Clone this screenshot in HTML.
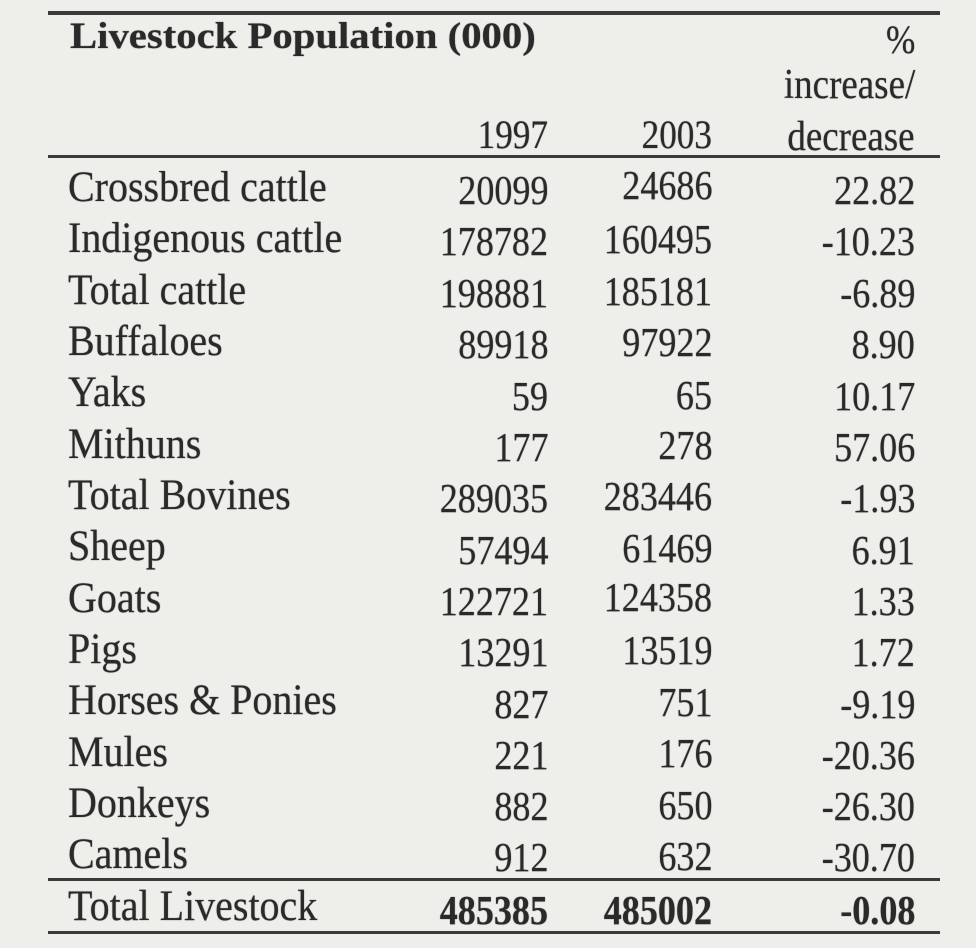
<!DOCTYPE html>
<html><head><meta charset="utf-8"><style>
body{margin:0;width:976px;height:948px;background:#eeeeea;overflow:hidden;position:relative;font-family:"Liberation Serif",serif;color:#2a2a2a;}
.l{position:absolute;left:48px;width:892px;background:#3a3a3a;}
.r{position:absolute;height:50px;line-height:50px;font-size:41px;white-space:nowrap;text-shadow:0 0 1px #555;}
.n{text-align:right;transform:scaleX(0.88);transform-origin:right;}
.c0{left:68px;font-size:43px;transform:scaleX(0.93);transform-origin:left;}
.c1{right:428px;}.c2{right:264px;}.c3{right:61px;}
b{font-weight:bold}
</style></head><body>
<div class="l" style="top:11px;height:4px"></div>
<div class="l" style="top:155px;height:3px"></div>
<div class="l" style="top:878px;height:3px"></div>
<div class="l" style="top:931px;height:3px"></div>
<div class="r" style="top:12px;left:70px;font-size:37px;font-weight:bold;transform:scaleX(1.1);transform-origin:left">Livestock Population (000)</div>
<div class="r n c3" style="top:15px;font-size:40px">%</div>
<div class="r n c3" style="top:60px;font-size:42px">increase/</div>
<div class="r n c3" style="top:112px;font-size:42px">decrease</div>
<div class="r n c1" style="top:110px;font-size:40px">1997</div>
<div class="r n c2" style="top:110px;font-size:40px">2003</div>
<div class="r c0" style="top:163px">Crossbred cattle</div><div class="r n c1" style="top:165px">20099</div><div class="r n c2" style="top:160px">24686</div><div class="r n c3" style="top:165px">22.82</div>
<div class="r c0" style="top:214px">Indigenous cattle</div><div class="r n c1" style="top:216px">178782</div><div class="r n c2" style="top:214px">160495</div><div class="r n c3" style="top:216px">-10.23</div>
<div class="r c0" style="top:266px">Total cattle</div><div class="r n c1" style="top:268px">198881</div><div class="r n c2" style="top:266px">185181</div><div class="r n c3" style="top:268px">-6.89</div>
<div class="r c0" style="top:317px">Buffaloes</div><div class="r n c1" style="top:319px">89918</div><div class="r n c2" style="top:317px">97922</div><div class="r n c3" style="top:319px">8.90</div>
<div class="r c0" style="top:368px">Yaks</div><div class="r n c1" style="top:371px">59</div><div class="r n c2" style="top:370px">65</div><div class="r n c3" style="top:371px">10.17</div>
<div class="r c0" style="top:420px">Mithuns</div><div class="r n c1" style="top:422px">177</div><div class="r n c2" style="top:420px">278</div><div class="r n c3" style="top:422px">57.06</div>
<div class="r c0" style="top:471px">Total Bovines</div><div class="r n c1" style="top:473px">289035</div><div class="r n c2" style="top:471px">283446</div><div class="r n c3" style="top:473px">-1.93</div>
<div class="r c0" style="top:522px">Sheep</div><div class="r n c1" style="top:525px">57494</div><div class="r n c2" style="top:523px">61469</div><div class="r n c3" style="top:525px">6.91</div>
<div class="r c0" style="top:574px">Goats</div><div class="r n c1" style="top:576px">122721</div><div class="r n c2" style="top:572px">124358</div><div class="r n c3" style="top:576px">1.33</div>
<div class="r c0" style="top:625px">Pigs</div><div class="r n c1" style="top:627px">13291</div><div class="r n c2" style="top:625px">13519</div><div class="r n c3" style="top:627px">1.72</div>
<div class="r c0" style="top:676px">Horses &amp; Ponies</div><div class="r n c1" style="top:679px">827</div><div class="r n c2" style="top:677px">751</div><div class="r n c3" style="top:679px">-9.19</div>
<div class="r c0" style="top:728px">Mules</div><div class="r n c1" style="top:730px">221</div><div class="r n c2" style="top:728px">176</div><div class="r n c3" style="top:730px">-20.36</div>
<div class="r c0" style="top:779px">Donkeys</div><div class="r n c1" style="top:781px">882</div><div class="r n c2" style="top:780px">650</div><div class="r n c3" style="top:781px">-26.30</div>
<div class="r c0" style="top:830px">Camels</div><div class="r n c1" style="top:832px">912</div><div class="r n c2" style="top:831px">632</div><div class="r n c3" style="top:832px">-30.70</div>
<div class="r c0" style="top:882px">Total Livestock</div><div class="r n c1" style="top:885px"><b>485385</b></div><div class="r n c2" style="top:885px"><b>485002</b></div><div class="r n c3" style="top:885px"><b>-0.08</b></div>
</body></html>
